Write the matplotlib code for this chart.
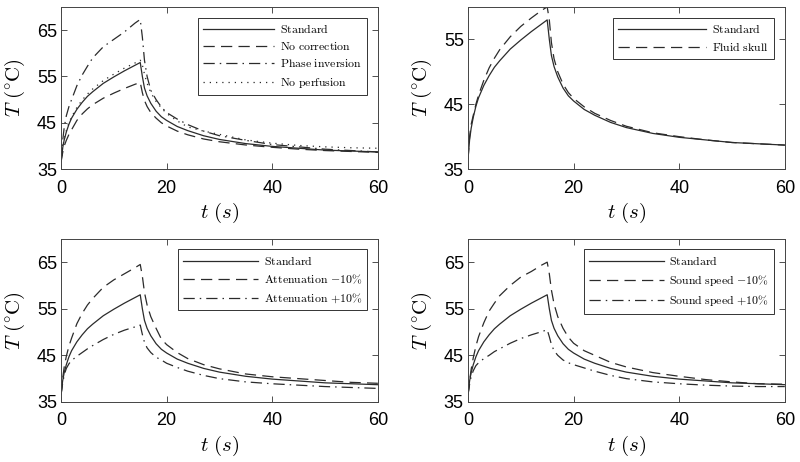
import numpy as np
import matplotlib
matplotlib.use('Agg')
import matplotlib.pyplot as plt

plt.rcParams['mathtext.fontset'] = 'cm'
plt.rcParams['font.family'] = ['Liberation Sans', 'DejaVu Sans']

# Zeitachse (s), gemeinsam fuer alle Kurven
t = [0, 0.3, 0.6, 1, 1.5, 2, 3, 4, 5, 6, 8, 10, 12, 14, 15,
     15.4, 15.8, 16.3, 17, 18, 19, 20, 22, 24, 27, 30, 35, 40, 45, 50, 55, 60]

# Temperaturen (degC)
standard = [36.5, 39.5, 41.3, 43.0, 44.7, 46.0, 47.9, 49.4, 50.7, 51.7, 53.5, 54.9, 56.2, 57.4, 58.0,
            55.0, 52.5, 50.8, 49.2, 47.5, 46.3, 45.5, 44.2, 43.3, 42.2, 41.4, 40.5, 39.9, 39.5, 39.1, 38.9, 38.7]
no_correction = [36.5, 38.5, 40.0, 41.2, 42.5, 43.5, 45.5, 46.9, 48.0, 48.9, 50.3, 51.4, 52.4, 53.3, 53.7,
                 51.5, 49.8, 48.5, 47.2, 46.0, 45.0, 44.3, 43.2, 42.4, 41.5, 40.9, 40.2, 39.7, 39.3, 39.0, 38.8, 38.6]
phase_inversion = [36.5, 41.0, 44.0, 46.5, 48.5, 50.0, 53.0, 55.3, 57.2, 59.0, 61.4, 63.0, 64.6, 66.5, 67.3,
                   63.5, 58.5, 55.0, 52.0, 50.0, 48.4, 47.2, 45.8, 44.6, 43.2, 42.2, 41.2, 40.3, 39.8, 39.3, 39.0, 38.7]
no_perfusion = [36.5, 39.6, 41.5, 43.3, 45.0, 46.3, 48.3, 49.9, 51.2, 52.3, 54.1, 55.5, 56.8, 57.9, 58.5,
                57.5, 55.5, 53.5, 51.5, 49.6, 48.2, 47.0, 45.4, 44.1, 43.2, 42.5, 41.3, 40.6, 40.1, 39.8, 39.6, 39.5]
fluid_skull = [36.5, 40.0, 41.9, 43.3, 45.0, 46.4, 48.7, 50.6, 52.1, 53.4, 55.4, 57.0, 58.3, 59.5, 60.0,
               58.0, 54.5, 52.0, 50.0, 48.1, 46.8, 45.9, 44.6, 43.6, 42.5, 41.6, 40.6, 40.0, 39.5, 39.1, 38.9, 38.7]
atten_minus = [36.5, 40.0, 42.5, 44.8, 47.0, 48.7, 51.8, 54.0, 55.8, 57.2, 59.6, 61.2, 62.5, 63.8, 64.5,
               62.0, 58.5, 55.8, 53.3, 50.8, 48.5, 47.3, 45.6, 44.3, 43.0, 42.1, 41.0, 40.4, 40.0, 39.6, 39.2, 39.0]
atten_plus = [36.5, 39.0, 40.8, 42.2, 43.2, 43.9, 44.8, 45.6, 46.4, 47.1, 48.4, 49.5, 50.4, 51.1, 51.5,
              49.5, 47.8, 46.6, 45.6, 44.6, 44.0, 43.3, 42.4, 41.6, 40.7, 40.0, 39.3, 38.9, 38.6, 38.3, 38.1, 37.9]
speed_minus = [36.5, 39.5, 42.0, 44.5, 47.0, 49.0, 52.0, 54.5, 56.2, 57.8, 60.0, 61.8, 63.0, 64.4, 65.0,
               62.5, 59.0, 56.0, 53.3, 50.8, 48.9, 47.6, 46.0, 45.0, 43.5, 42.5, 41.3, 40.5, 39.8, 39.3, 38.9, 38.8]
speed_plus = [36.5, 38.8, 40.5, 41.7, 42.8, 43.4, 44.3, 45.0, 45.8, 46.4, 47.6, 48.6, 49.4, 50.1, 50.5,
              49.0, 47.3, 46.0, 45.0, 44.0, 43.4, 43.0, 42.3, 41.6, 40.7, 40.0, 39.3, 38.9, 38.6, 38.4, 38.3, 38.3]

col = '#2b2b2b'
styles = {'-': '-', '--': (0, (9, 5)), '-.': (0, (9, 4, 1.2, 4)), ':': (0, (1, 4))}

panels = [
    ([0.0763, 0.634, 0.396, 0.351], (35, 70), [35, 45, 55, 65], 6,
     [(standard, '-', r'$\mathrm{Standard}$'),
      (no_correction, '--', r'$\mathrm{No\ correction}$'),
      (phase_inversion, '-.', r'$\mathrm{Phase\ inversion}$'),
      (no_perfusion, ':', r'$\mathrm{No\ perfusion}$')]),
    ([0.585, 0.634, 0.396, 0.351], (35, 60), [35, 45, 55], 7.5,
     [(standard, '-', r'$\mathrm{Standard}$'),
      (fluid_skull, '--', r'$\mathrm{Fluid\ skull}$')]),
    ([0.0763, 0.130, 0.396, 0.353], (35, 70), [35, 45, 55, 65], 6.3,
     [(standard, '-', r'$\mathrm{Standard}$'),
      (atten_minus, '--', r'$\mathrm{Attenuation}\ {-10}\%$'),
      (atten_plus, '-.', r'$\mathrm{Attenuation}\ {+10}\%$')]),
    ([0.585, 0.130, 0.396, 0.353], (35, 70), [35, 45, 55, 65], 6.3,
     [(standard, '-', r'$\mathrm{Standard}$'),
      (speed_minus, '--', r'$\mathrm{Sound\ speed}\ {-10}\%$'),
      (speed_plus, '-.', r'$\mathrm{Sound\ speed}\ {+10}\%$')]),
]

fig = plt.figure(figsize=(8, 4.62), dpi=100)
for rect, ylim, yticks, hl, series in panels:
    ax = fig.add_axes(rect)
    for y, ls, lab in series:
        ax.plot(t, y, color=col, lw=0.9, linestyle=styles[ls], label=lab)
    ax.set_xlim(0, 60)
    ax.set_ylim(*ylim)
    ax.set_xticks([0, 20, 40, 60])
    ax.set_yticks(yticks)
    ax.tick_params(direction='in', length=4, width=0.6, labelsize=13, top=True, right=True,
                   colors='#333333', labelcolor='black', pad=3)
    ax.tick_params(axis='x', pad=7.5)
    for s in ax.spines.values():
        s.set_linewidth(0.7)
        s.set_color('#444444')
    ax.set_xlabel(r'$t\ (s)$', fontsize=15, labelpad=3)
    ax.set_ylabel(r'$T\ (^{\circ}\mathrm{C})$', fontsize=15, labelpad=7)
    leg = ax.legend(loc='upper right', fontsize=8.5, handlelength=hl, fancybox=False,
                    framealpha=1, borderaxespad=0.9, labelspacing=0.45, handletextpad=0.5,
                    borderpad=0.45)
    leg.get_frame().set_edgecolor('#333333')
    leg.get_frame().set_linewidth(0.7)

fig.savefig('out.png', dpi=100)
